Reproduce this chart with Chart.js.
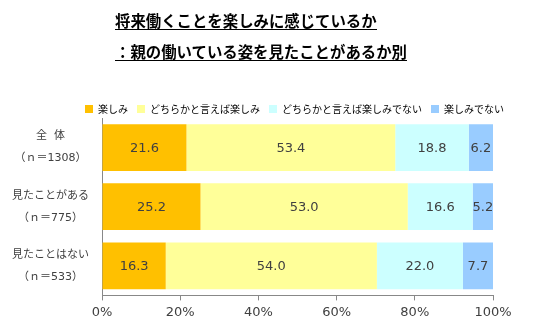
<!DOCTYPE html>
<html>
<head>
<meta charset="utf-8">
<script src="https://cdn.jsdelivr.net/npm/chart.js@4"></script>
<style>
  html, body { margin: 0; padding: 0; background: #fff; }
  #wrap { position: relative; width: 542px; height: 331px; }
  .title {
    position: absolute;
    left: 115px;
    font-family: 'Noto Sans CJK JP', sans-serif;
    font-weight: bold;
    font-size: 15.4px;
    line-height: 1;
    color: #000;
    white-space: nowrap;
  }
  .title span { display: inline-block; padding-bottom: 1px; border-bottom: 1px solid #000; }
</style>
</head>
<body>
<div id="wrap">
  <div class="title" style="top: 13px;"><span>将来働くことを楽しみに感じているか</span></div>
  <div class="title" style="top: 44px;"><span>：親の働いている姿を見たことがあるか別</span></div>
  <canvas id="chart" width="542" height="331"></canvas>
</div>
<script>
// groups and sample sizes
const groupNames = ['全  体', '見たことがある', '見たことはない'];
const sampleSizes = [1308, 775, 533];

// answer shares, percent
const seriesNames = ['楽しみ', 'どちらかと言えば楽しみ', 'どちらかと言えば楽しみでない', '楽しみでない'];
const enjoy = [21.6, 25.2, 16.3];
const ratherEnjoy = [53.4, 53.0, 54.0];
const ratherNot = [18.8, 16.6, 22.0];
const notEnjoy = [6.2, 5.2, 7.7];

const xTicks = [0, 20, 40, 60, 80, 100];
const colors = ['#FFC000', '#FFFF99', '#CCFFFF', '#99CCFF'];

const labels = groupNames.map((g, i) => [g, '（ｎ＝' + sampleSizes[i] + '）']);
const seriesValues = [enjoy, ratherEnjoy, ratherNot, notEnjoy];

Chart.defaults.font.family = "'DejaVu Sans', 'Noto Sans CJK JP', sans-serif";
Chart.defaults.color = '#404040';

// numbers in the middle of every segment
const segmentLabels = {
  id: 'segmentLabels',
  afterDatasetsDraw(chart) {
    const ctx = chart.ctx;
    ctx.save();
    ctx.font = "13px 'DejaVu Sans', sans-serif";
    ctx.fillStyle = '#404040';
    ctx.textAlign = 'center';
    ctx.textBaseline = 'middle';
    chart.data.datasets.forEach((ds, di) => {
      const meta = chart.getDatasetMeta(di);
      meta.data.forEach((bar, i) => {
        const p = bar.getProps(['x', 'base', 'y'], true);
        ctx.fillText(ds.data[i].toFixed(1), (p.x + p.base) / 2, p.y + 1);
      });
    });
    ctx.restore();
  }
};

// keep the legend centred over the plot and a little closer to the bars
const legendOverPlot = {
  id: 'legendOverPlot',
  afterLayout(chart) {
    const lg = chart.legend;
    const area = chart.chartArea;
    const w = lg.right - lg.left;
    const mid = (area.left + area.right) / 2 - 3;
    lg.left = mid - w / 2;
    lg.right = mid + w / 2;
    lg.top += 6;
    lg.bottom += 6;
  }
};

new Chart(document.getElementById('chart'), {
  type: 'bar',
  data: {
    labels: labels,
    datasets: seriesNames.map((name, k) => ({
      label: name,
      data: seriesValues[k],
      backgroundColor: colors[k],
      borderWidth: 0,
      barPercentage: 0.79,
      categoryPercentage: 1
    }))
  },
  options: {
    indexAxis: 'y',
    responsive: false,
    animation: false,
    layout: { padding: { top: 89, right: 49, bottom: 7, left: 0 } },
    plugins: {
      legend: {
        position: 'top',
        labels: {
          boxWidth: 8,
          boxHeight: 8,
          padding: 9,
          color: '#000',
          font: { size: 10, family: "'Noto Sans CJK JP', sans-serif" }
        }
      },
      tooltip: { enabled: false }
    },
    scales: {
      x: {
        stacked: true,
        min: 0,
        max: 100,
        afterBuildTicks(scale) {
          scale.ticks = xTicks.map(v => ({ value: v }));
        },
        grid: { drawOnChartArea: false, tickLength: 5, color: '#888' },
        border: { color: '#888' },
        ticks: {
          padding: 4,
          font: { size: 13 },
          callback: v => v + '%'
        }
      },
      y: {
        stacked: true,
        afterFit(scale) { scale.width = 102; },
        grid: { drawOnChartArea: false, drawTicks: false },
        border: { color: '#888' },
        ticks: {
          crossAlign: 'center',
          padding: 13,
          font: { size: 11, lineHeight: 2 }
        }
      }
    }
  },
  plugins: [segmentLabels, legendOverPlot]
});
</script>
</body>
</html>
